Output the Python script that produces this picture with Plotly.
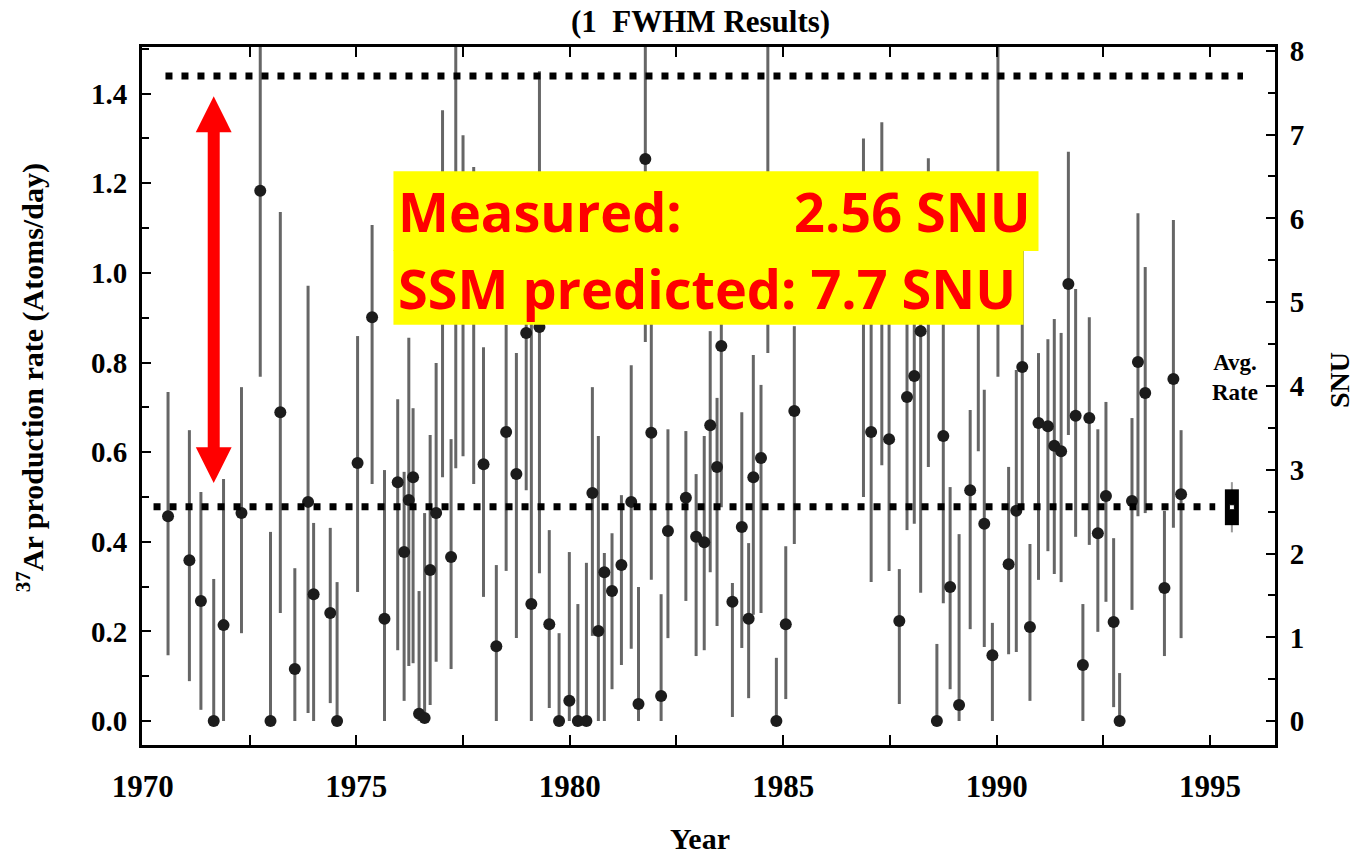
import plotly.graph_objects as go

# ---------------- data ----------------
years = [1970.59, 1971.09, 1971.36, 1971.66, 1971.89, 1972.31, 1972.75, 1972.99, 1973.22, 1973.56,
         1973.87, 1974.00, 1974.39, 1974.55, 1975.03, 1975.37, 1975.66, 1975.97, 1976.12, 1976.23,
         1976.33, 1976.47, 1976.60, 1976.73, 1976.87, 1977.02, 1977.22, 1977.33, 1977.50, 1977.75,
         1977.98, 1978.28, 1978.51, 1978.75, 1978.98, 1979.10, 1979.29, 1979.52, 1979.75, 1979.99,
         1980.19, 1980.39, 1980.53, 1980.67, 1980.81, 1980.99, 1981.21, 1981.44, 1981.61, 1981.77,
         1981.91, 1982.14, 1982.30, 1982.72, 1982.96, 1983.15, 1983.29, 1983.45, 1983.55, 1983.81,
         1984.03, 1984.19, 1984.30, 1984.48, 1984.64, 1984.84, 1985.06, 1985.26, 1986.88, 1987.06,
         1987.31, 1987.48, 1987.72, 1987.90, 1988.07, 1988.22, 1988.40, 1988.60, 1988.75, 1988.91,
         1989.12, 1989.38, 1989.57, 1989.71, 1989.90, 1990.03, 1990.28, 1990.46, 1990.60, 1990.78,
         1990.98, 1991.20, 1991.35, 1991.51, 1991.68, 1991.85, 1992.02, 1992.17, 1992.37, 1992.56,
         1992.74, 1992.88, 1993.17, 1993.31, 1993.48, 1993.93, 1994.14, 1994.32]

rate = [0.457, 0.359, 0.268, 0.0, 0.214, 0.464, 1.183, 0.0, 0.689, 0.116,
        0.489, 0.283, 0.241, 0.0, 0.576, 0.901, 0.228, 0.533, 0.377, 0.493,
        0.544, 0.016, 0.007, 0.337, 0.464, 0.95, 0.366, 1.00, 0.95, 0.95,
        0.573, 0.167, 0.645, 0.551, 0.866, 0.261, 0.879, 0.216, 0.0, 0.045,
        0.0, 0.0, 0.509, 0.201, 0.332, 0.290, 0.348, 0.489, 0.038, 1.254,
        0.643, 0.056, 0.424, 0.498, 0.411, 0.399, 0.660, 0.567, 0.837, 0.266,
        0.433, 0.228, 0.544, 0.587, 1.10, 0.0, 0.216, 0.692, 0.95, 0.645,
        0.95, 0.629, 0.223, 0.723, 0.770, 0.870, 0.93, 0.0, 0.636, 0.299,
        0.036, 0.515, 0.95, 0.440, 0.147, 1.10, 0.350, 0.469, 0.790, 0.210,
        0.665, 0.658, 0.614, 0.602, 0.975, 0.681, 0.125, 0.676, 0.419, 0.502,
        0.221, 0.0, 0.491, 0.801, 0.732, 0.297, 0.763, 0.506]

upper = [0.734, 0.649, 0.511, 0.317, 0.540, 0.745, 1.60, 0.422, 1.136, 0.341,
         0.971, 0.442, 0.431, 0.310, 0.859, 1.107, 0.560, 0.718, 0.556, 0.855,
         0.698, 0.290, 0.464, 0.638, 0.799, 1.363, 0.629, 1.60, 1.307, 1.236,
         0.834, 0.348, 0.884, 0.821, 1.10, 1.00, 1.450, 0.426, 0.196, 0.377,
         0.261, 0.353, 0.745, 0.636, 0.375, 0.419, 0.504, 0.794, 0.299, 1.60,
         0.90, 0.283, 0.651, 0.647, 0.551, 0.636, 0.870, 0.721, 1.05, 0.308,
         0.689, 0.397, 0.817, 0.750, 1.60, 0.141, 0.390, 0.881, 1.30, 0.95,
         1.336, 0.93, 0.339, 0.95, 1.10, 1.10, 1.256, 0.172, 0.95, 0.522,
         0.417, 0.694, 1.20, 0.739, 0.219, 1.60, 0.567, 0.783, 1.051, 0.395,
         0.821, 0.852, 0.897, 0.866, 1.270, 0.964, 0.261, 0.901, 0.651, 0.712,
         0.408, 0.107, 0.676, 1.133, 1.013, 0.469, 1.118, 0.649]

lower = [0.147, 0.089, 0.025, 0.0, 0.0, 0.196, 0.768, 0.0, 0.241, 0.0,
         0.018, 0.0, 0.040, 0.0, 0.288, 0.529, 0.0, 0.158, 0.045, 0.123,
         0.129, 0.0, 0.0, 0.036, 0.132, 0.544, 0.116, 0.564, 0.591, 0.529,
         0.277, 0.0, 0.335, 0.185, 0.515, 0.0, 0.330, 0.029, 0.0, 0.0,
         0.0, 0.0, 0.19, 0.0, 0.0, 0.071, 0.125, 0.161, 0.0, 0.846,
         0.315, 0.0, 0.185, 0.268, 0.145, 0.158, 0.332, 0.212, 0.477, 0.009,
         0.163, 0.051, 0.237, 0.241, 0.821, 0.0, 0.049, 0.395, 0.500, 0.310,
         0.571, 0.335, 0.038, 0.426, 0.440, 0.286, 0.567, 0.0, 0.263, 0.071,
         0.0, 0.205, 0.602, 0.165, 0.0, 0.768, 0.149, 0.154, 0.477, 0.045,
         0.315, 0.379, 0.328, 0.310, 0.638, 0.411, 0.0, 0.393, 0.199, 0.266,
         0.031, 0.0, 0.248, 0.457, 0.464, 0.145, 0.431, 0.185]

# average rate marker
avg_year = 1995.51
avg_rate = 0.477
avg_box_err = 0.040
avg_whisker_err = 0.056

# SNU reference lines (right axis)
measured_snu = 2.56
predicted_snu = 7.7
measured_line_x = [1970.25, 1995.12]
predicted_line_x = [1970.53, 1995.77]

# ---------------- figure ----------------
SERIF = "Liberation Serif, Times New Roman, serif"
fig = go.Figure()

err_plus = [u - r for u, r in zip(upper, rate)]
err_minus = [r - l for r, l in zip(rate, lower)]

fig.add_trace(go.Scatter(
    x=years, y=rate, mode="markers",
    marker=dict(color="#1c1c1c", size=12),
    error_y=dict(type="data", symmetric=False, array=err_plus, arrayminus=err_minus,
                 color="#666666", thickness=3, width=0),
    showlegend=False, hoverinfo="skip"))

# dotted reference lines on SNU axis
fig.add_trace(go.Scatter(
    x=measured_line_x, y=[measured_snu] * 2, yaxis="y2", mode="lines",
    line=dict(color="black", width=7, dash="7px,9px"), showlegend=False, hoverinfo="skip"))
fig.add_trace(go.Scatter(
    x=predicted_line_x, y=[predicted_snu] * 2, yaxis="y2", mode="lines",
    line=dict(color="black", width=7, dash="7px,9px"), showlegend=False, hoverinfo="skip"))

# average rate box
fig.add_trace(go.Scatter(
    x=[avg_year], y=[avg_rate], mode="markers",
    marker=dict(size=1, color="rgba(0,0,0,0)"),
    error_y=dict(type="data", array=[avg_whisker_err], color="#9a9a9a", thickness=2, width=0),
    showlegend=False, hoverinfo="skip"))
fig.add_trace(go.Scatter(
    x=[avg_year], y=[avg_rate], mode="markers",
    marker=dict(symbol="square", size=5, color="white", line=dict(color="black", width=1)),
    error_y=dict(type="data", array=[avg_box_err], color="black", thickness=14, width=0),
    showlegend=False, hoverinfo="skip"))

# red double arrow between the two levels
arrow_x = 1971.66
arrow_tip_top = 1.394
arrow_tip_bottom = 0.531
head_h = 0.080
head_hw = 0.42
shapes = [
    dict(type="line", xref="x", yref="y", x0=arrow_x, x1=arrow_x,
         y0=arrow_tip_bottom + head_h - 0.005, y1=arrow_tip_top - head_h + 0.005,
         line=dict(color="#ff0000", width=12), layer="above"),
    dict(type="path", xref="x", yref="y",
         path=f"M {arrow_x} {arrow_tip_top} L {arrow_x - head_hw} {arrow_tip_top - head_h} "
              f"L {arrow_x + head_hw} {arrow_tip_top - head_h} Z",
         fillcolor="#ff0000", line=dict(width=0), layer="above"),
    dict(type="path", xref="x", yref="y",
         path=f"M {arrow_x} {arrow_tip_bottom} L {arrow_x - head_hw} {arrow_tip_bottom + head_h} "
              f"L {arrow_x + head_hw} {arrow_tip_bottom + head_h} Z",
         fillcolor="#ff0000", line=dict(width=0), layer="above"),
    # yellow highlight boxes
    dict(type="rect", xref="x", yref="y", x0=1975.87, x1=1990.98, y0=1.049, y1=1.227,
         fillcolor="#ffff00", line=dict(width=0), layer="above"),
    dict(type="rect", xref="x", yref="y", x0=1975.87, x1=1990.63, y0=0.884, y1=1.051,
         fillcolor="#ffff00", line=dict(width=0), layer="above"),
]

RED_FONT = dict(family="Open Sans, Noto Sans, sans-serif", size=54, color="#ff0000", weight="bold")
annotations = [
    dict(text="Measured:", x=1975.93, y=1.139, xref="x", yref="y", xanchor="left",
         yanchor="middle", showarrow=False, font=RED_FONT),
    dict(text="2.56 SNU", x=1990.86, y=1.139, xref="x", yref="y", xanchor="right",
         yanchor="middle", showarrow=False, font=RED_FONT),
    dict(text="SSM predicted: 7.7 SNU", x=1975.93, y=0.966, xref="x", yref="y",
         xanchor="left", yanchor="middle", showarrow=False, font=RED_FONT),
    dict(text="(1  FWHM Results)", x=0.4926, y=1.036, xref="paper", yref="paper",
         xanchor="center", yanchor="middle", showarrow=False,
         font=dict(family=SERIF, size=31, color="black", weight="bold")),
    dict(text="Year", x=0.4926, y=-0.134, xref="paper", yref="paper",
         xanchor="center", yanchor="middle", showarrow=False,
         font=dict(family=SERIF, size=30, color="black", weight="bold")),
    dict(text="<sup>37</sup>Ar production rate (Atoms/day)", x=-0.0977, y=0.526,
         xref="paper", yref="paper", xanchor="center", yanchor="middle",
         textangle=-90, showarrow=False,
         font=dict(family=SERIF, size=30, color="black", weight="bold")),
    dict(text="SNU", x=1.0574, y=0.523, xref="paper", yref="paper", textangle=-90,
         xanchor="center", yanchor="middle", showarrow=False,
         font=dict(family=SERIF, size=28, color="black", weight="bold")),
    dict(text="Avg.<br>Rate", x=0.9647, y=0.526, xref="paper", yref="paper",
         xanchor="center", yanchor="middle", showarrow=False,
         font=dict(family=SERIF, size=23, color="black", weight="bold")),
]

XTICKFONT = dict(family=SERIF, size=31, color="black", weight="bold")
YTICKFONT = dict(family=SERIF, size=29, color="black", weight="bold")
fig.update_layout(
    width=1355, height=859,
    margin=dict(l=142, r=80, t=47, b=114),
    paper_bgcolor="white", plot_bgcolor="white",
    showlegend=False,
    shapes=shapes, annotations=annotations,
    xaxis=dict(range=[1969.98, 1996.52], tick0=1970, dtick=5, ticks="inside", ticklen=10,
               tickwidth=2, tickcolor="black", showgrid=False, zeroline=False,
               showline=True, linecolor="black", linewidth=3, mirror="ticks",
               tickfont=XTICKFONT, ticklabelstandoff=12,
               minor=dict(dtick=2.5, tick0=1970, ticks="inside", ticklen=10, tickwidth=2,
                          tickcolor="black", showgrid=False)),
    yaxis=dict(range=[-0.0535, 1.504], tick0=0, dtick=0.2, tickformat=".1f",
               ticks="inside", ticklen=9, tickwidth=2, tickcolor="black",
               showgrid=False, zeroline=False, showline=True, linecolor="black",
               linewidth=3, mirror=True, tickfont=YTICKFONT, ticklabelstandoff=6,
               minor=dict(dtick=0.1, tick0=0, ticks="inside", ticklen=7, tickwidth=2,
                          tickcolor="black", showgrid=False)),
    yaxis2=dict(range=[-0.284, 8.045], overlaying="y", side="right", tick0=0, dtick=1,
                ticks="inside", ticklen=9, tickwidth=2, tickcolor="black",
                showgrid=False, zeroline=False, showline=True, linecolor="black",
                linewidth=3, tickfont=YTICKFONT, ticklabelstandoff=6,
                minor=dict(dtick=0.5, tick0=0, ticks="inside", ticklen=7, tickwidth=2,
                           tickcolor="black", showgrid=False)),
)

fig.write_html("out.html")
